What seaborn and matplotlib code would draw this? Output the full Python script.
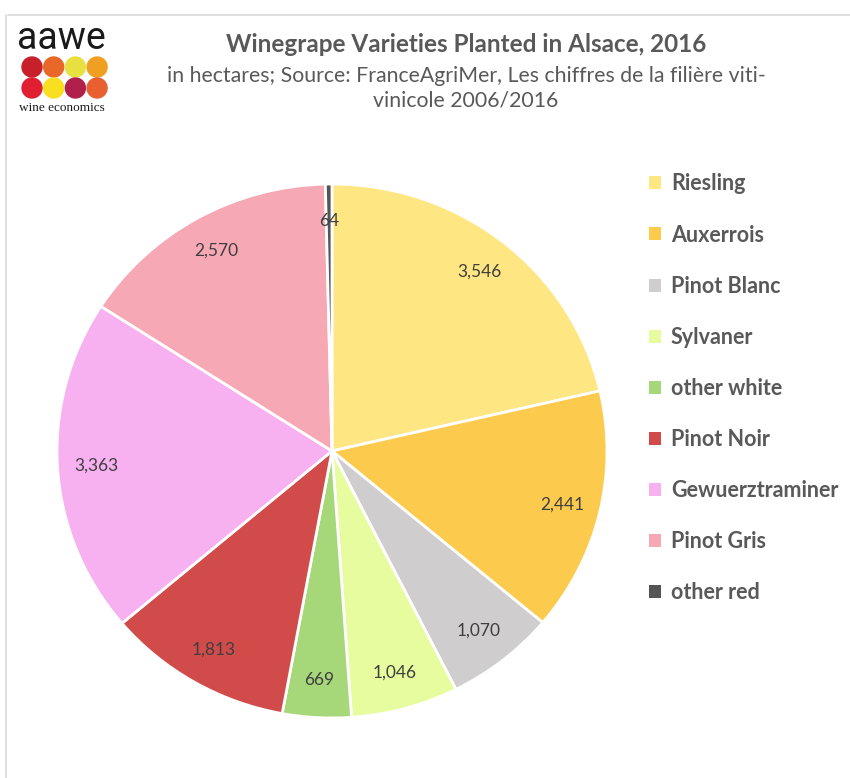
import matplotlib
matplotlib.use('Agg')
import matplotlib.pyplot as plt
import seaborn as sns
from matplotlib.patches import Circle, Patch
from matplotlib.lines import Line2D

# Data: hectares planted in Alsace, 2016
varieties = ['Riesling', 'Auxerrois', 'Pinot Blanc', 'Sylvaner', 'other white',
             'Pinot Noir', 'Gewuerztraminer', 'Pinot Gris', 'other red']
hectares = [3546, 2441, 1070, 1046, 669, 1813, 3363, 2570, 64]
colors = ['#FEE782', '#FCCB4E', '#CFCDCD', '#E7FC9E', '#A6D879',
          '#D24B4B', '#F8B1F0', '#F7A8B5', '#555555']

title = 'Winegrape Varieties Planted in Alsace, 2016'
subtitle = 'in hectares; Source: FranceAgriMer, Les chiffres de la filière viti-\nvinicole 2006/2016'

sns.set_style('white')
plt.rcParams['font.family'] = ['Lato', 'DejaVu Sans']

W, H = 850, 778
fig = plt.figure(figsize=(W / 100, H / 100), dpi=100)
fig.patch.set_facecolor('white')

# chart frame
fig.add_artist(Line2D([8 / W, 1], [1 - 15 / H, 1 - 15 / H], color='#D9D9D9', lw=1.2))
fig.add_artist(Line2D([6 / W, 6 / W], [0, 1 - 15 / H], color='#D9D9D9', lw=1.2))

# pie
cx, cy, rx, ry = 332, 451, 275, 267
ax = fig.add_axes([(cx - rx) / W, 1 - (cy + ry) / H, 2 * rx / W, 2 * ry / H])
wedges, texts = ax.pie(hectares, colors=colors, startangle=90, counterclock=False,
                       labels=[f'{v:,}' for v in hectares], labeldistance=0.86,
                       wedgeprops=dict(edgecolor='white', linewidth=2))
for t in texts:
    t.set_ha('center')
    t.set_va('center')
    t.set_fontsize(12.5)
    t.set_color('#3F3F3F')
ax.set_xlim(-1, 1)
ax.set_ylim(-1, 1)
ax.set_aspect('auto')
ax.axis('off')

# legend
handles = [Patch(facecolor=c, edgecolor='none') for c in colors]
fig.legend(handles, varieties, loc='upper left', bbox_to_anchor=(630 / W, 1 - 154 / H),
           frameon=False, prop=dict(weight='bold', size=15.5), labelcolor='#595959',
           handlelength=0.55, handleheight=0.55, handletextpad=0.45, labelspacing=1.40)

# titles
fig.text(466 / W, 1 - 45 / H, title, ha='center', va='center', fontsize=17.5,
         fontweight='bold', color='#595959')
fig.text(466 / W, 1 - 88 / H, subtitle, ha='center', va='center', fontsize=15.3,
         color='#595959', linespacing=1.3)

# logo
lax = fig.add_axes([15 / W, 1 - 115 / H, 100 / W, 95 / H])
lax.set_xlim(0, 100)
lax.set_ylim(95, 0)
lax.axis('off')
lax.text(46, 19, 'aawe', ha='center', va='center', fontsize=27, color='#1A1A1A',
         family='Roboto')
dots = [['#C8202B', '#E8682A', '#E8E040', '#F0A020'],
        ['#E02030', '#F8E020', '#B0204A', '#E86030']]
for r, row in enumerate(dots):
    for c, col in enumerate(row):
        lax.add_patch(Circle((17 + c * 21.7, 47 + r * 21), 10, color=col))
lax.text(47, 88, 'wine economics', ha='center', va='center', fontsize=9.5,
         family='Liberation Serif', color='#1A1A1A')

fig.savefig('out.png', dpi=100, facecolor='white')
